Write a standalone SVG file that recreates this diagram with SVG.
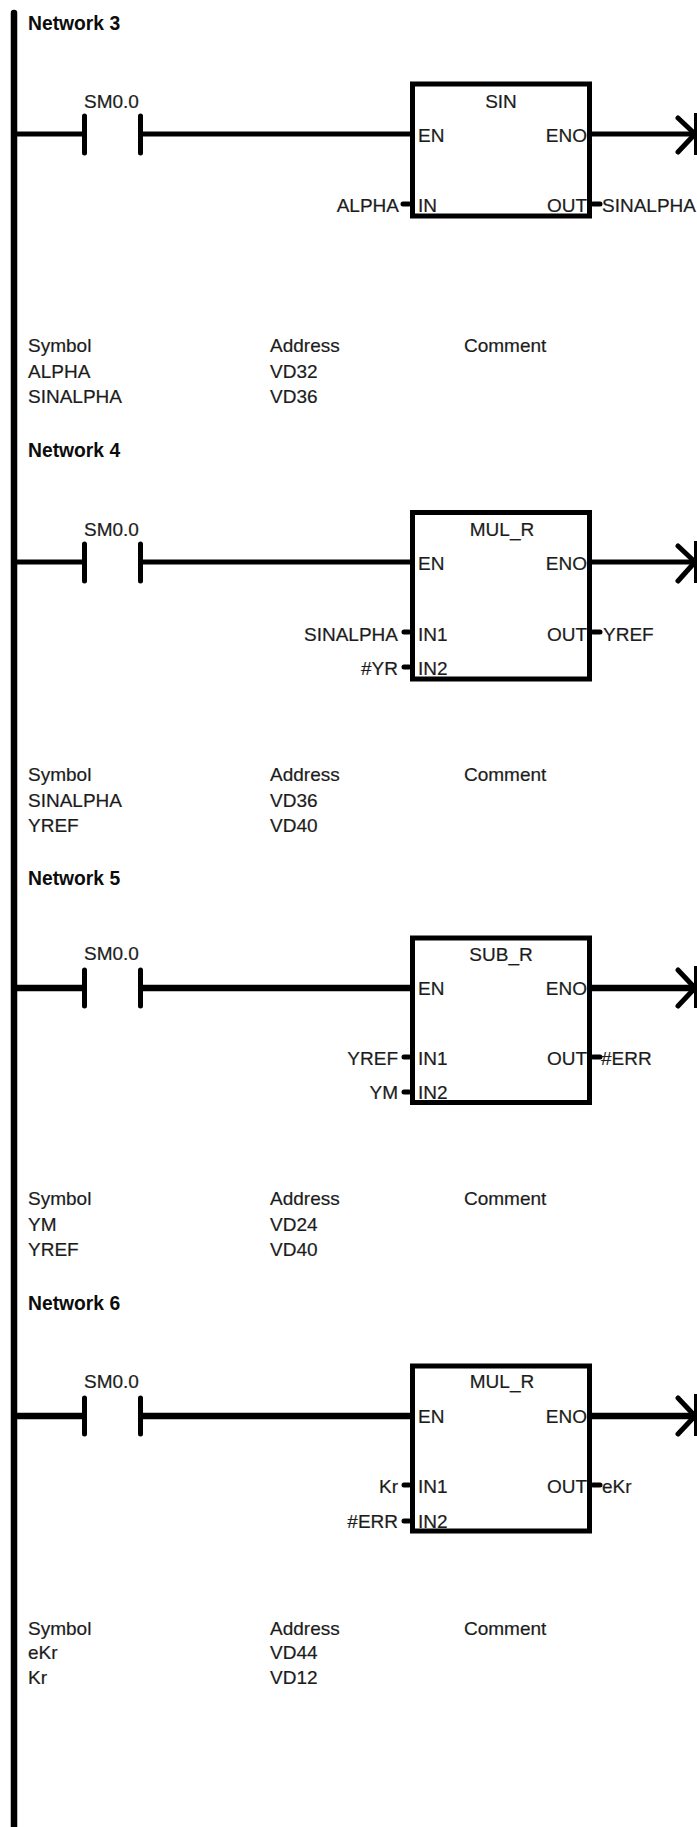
<svg xmlns="http://www.w3.org/2000/svg" width="697" height="1827" viewBox="0 0 697 1827">
<style>
text{font-family:"Liberation Sans",Arial,sans-serif;font-size:19px;fill:#1c1c1c;stroke:#1c1c1c;stroke-width:.2}
.h{font-weight:700;font-size:19.3px;fill:#0c0c0c;stroke:none}
.m{text-anchor:middle}.e{text-anchor:end}
.w{fill:none;stroke:#000;stroke-width:5;stroke-linecap:round;stroke-linejoin:round}
.t{stroke-width:6.5}.n{stroke-linecap:butt}
.b{fill:#fff;stroke:#000;stroke-width:5;stroke-linejoin:miter}
.p{fill:none;stroke:#000;stroke-width:5;stroke-linecap:round}
</style>
<rect width="697" height="1827" fill="#fff"/>
<g id="connectors">
<path class="w" d="M14 13V1827" style="stroke-width:6.500"/>
<path class="w n" d="M14 134H84M140 134H411M590 134H695"/>
<path class="w" d="M84.500 116V153M140.500 116V153M678 118L695 134L678 152"/>
<path class="w n" d="M695.500 113V155" style="stroke-width:3"/>
<path class="p" d="M403 204H409M593 204H600"/>
<path class="w n" d="M14 562H84M140 562H411M590 562H695"/>
<path class="w" d="M84.500 544V581M140.500 544V581M678 546L695 562L678 581"/>
<path class="w n" d="M695.500 541V583" style="stroke-width:3"/>
<path class="p" d="M404 632H409M593 632H600M404 667H409"/>
<path class="w t n" d="M14 988H84M140 988H411M590 988H695"/>
<path class="w" d="M84.500 970V1006M140.500 970V1006M678 970L695 988L678 1006"/>
<path class="w n" d="M695.500 966V1008" style="stroke-width:3"/>
<path class="p" d="M404 1057H409M593 1057H600M404 1092H409"/>
<path class="w t n" d="M14 1416H84M140 1416H411M590 1416H695"/>
<path class="w" d="M84.500 1398V1434M140.500 1398V1434M678 1398L695 1416L678 1434"/>
<path class="w n" d="M695.500 1394V1436" style="stroke-width:3"/>
<path class="p" d="M404 1485H409M593 1485H600M404 1521H409"/>
</g>
<g id="network3">
<text class="h" x="28" y="30">Network 3</text>
<text x="84" y="108">SM0.0</text>
<rect class="b" x="412.500" y="84" width="177" height="132"/>
<text class="m" x="501" y="108">SIN</text>
<text x="418" y="142">EN</text>
<text class="e" x="587" y="142">ENO</text>
<text x="418" y="212">IN</text>
<text class="e" x="587" y="212">OUT</text>
<text class="e" x="399" y="212">ALPHA</text>
<text x="602" y="212">SINALPHA</text>
<text x="28" y="352">Symbol</text><text x="270" y="352">Address</text><text x="464" y="352">Comment</text>
<text x="28" y="378">ALPHA</text><text x="270" y="378">VD32</text>
<text x="28" y="403">SINALPHA</text><text x="270" y="403">VD36</text>
</g>
<g id="network4">
<text class="h" x="28" y="457">Network 4</text>
<text x="84" y="536">SM0.0</text>
<rect class="b" x="412.500" y="512.500" width="177" height="166.500"/>
<text class="m" x="502" y="536">MUL_R</text>
<text x="418" y="570">EN</text>
<text class="e" x="587" y="570">ENO</text>
<text x="418" y="641">IN1</text>
<text x="418" y="675">IN2</text>
<text class="e" x="587" y="641">OUT</text>
<text class="e" x="398" y="641">SINALPHA</text>
<text class="e" x="398" y="675">#YR</text>
<text x="603" y="641">YREF</text>
<text x="28" y="781">Symbol</text><text x="270" y="781">Address</text><text x="464" y="781">Comment</text>
<text x="28" y="807">SINALPHA</text><text x="270" y="807">VD36</text>
<text x="28" y="832">YREF</text><text x="270" y="832">VD40</text>
</g>
<g id="network5">
<text class="h" x="28" y="885">Network 5</text>
<text x="84" y="960">SM0.0</text>
<rect class="b" x="412.500" y="938" width="177" height="164.500"/>
<text class="m" x="501" y="961">SUB_R</text>
<text x="418" y="995">EN</text>
<text class="e" x="587" y="995">ENO</text>
<text x="418" y="1065">IN1</text>
<text x="418" y="1099">IN2</text>
<text class="e" x="587" y="1065">OUT</text>
<text class="e" x="398" y="1065">YREF</text>
<text class="e" x="398" y="1099">YM</text>
<text x="601" y="1065">#ERR</text>
<text x="28" y="1205">Symbol</text><text x="270" y="1205">Address</text><text x="464" y="1205">Comment</text>
<text x="28" y="1231">YM</text><text x="270" y="1231">VD24</text>
<text x="28" y="1256">YREF</text><text x="270" y="1256">VD40</text>
</g>
<g id="network6">
<text class="h" x="28" y="1310">Network 6</text>
<text x="84" y="1388">SM0.0</text>
<rect class="b" x="412.500" y="1366" width="177" height="165"/>
<text class="m" x="502" y="1388">MUL_R</text>
<text x="418" y="1423">EN</text>
<text class="e" x="587" y="1423">ENO</text>
<text x="418" y="1493">IN1</text>
<text x="418" y="1528">IN2</text>
<text class="e" x="587" y="1493">OUT</text>
<text class="e" x="398" y="1493">Kr</text>
<text class="e" x="398" y="1528">#ERR</text>
<text x="602" y="1493">eKr</text>
<text x="28" y="1635">Symbol</text><text x="270" y="1635">Address</text><text x="464" y="1635">Comment</text>
<text x="28" y="1659">eKr</text><text x="270" y="1659">VD44</text>
<text x="28" y="1684">Kr</text><text x="270" y="1684">VD12</text>
</g>
</svg>
